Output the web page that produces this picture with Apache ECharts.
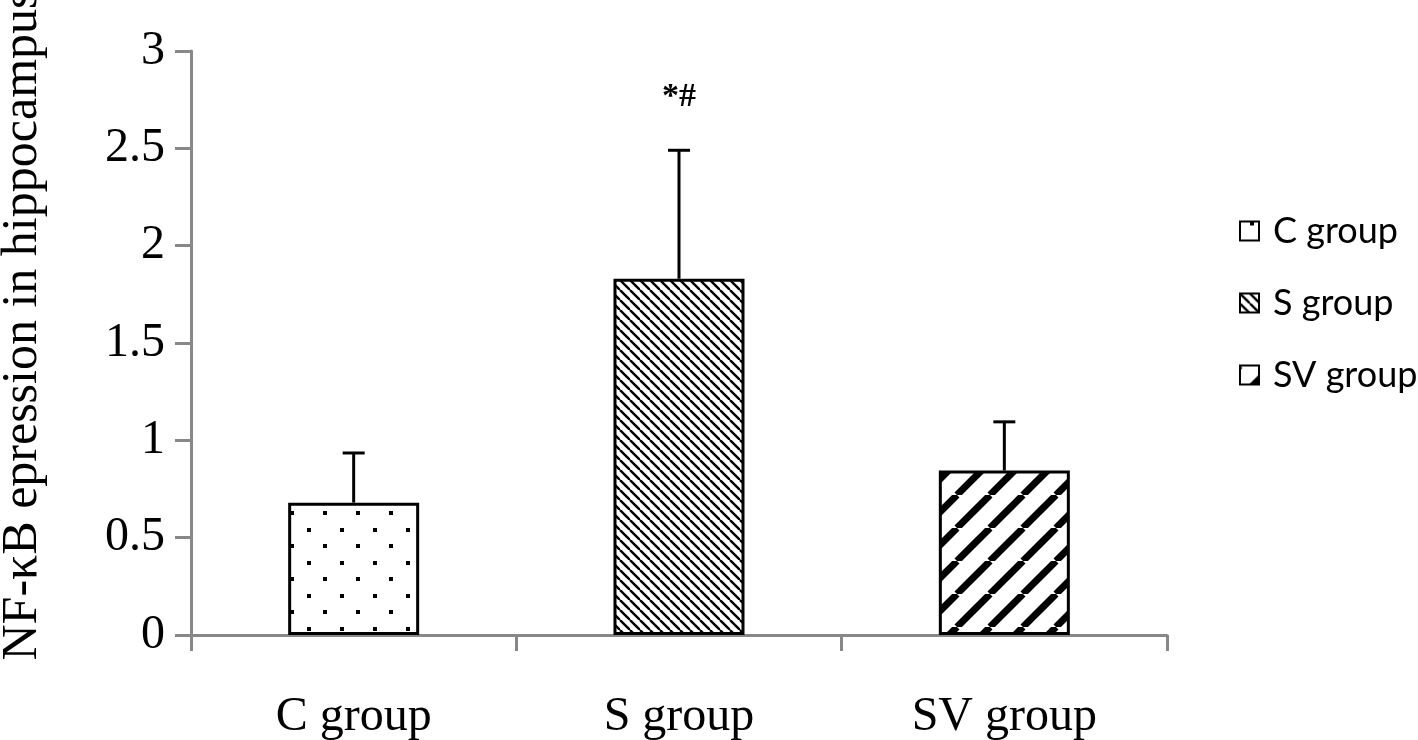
<!DOCTYPE html>
<html>
<head>
<meta charset="utf-8">
<script src="https://cdn.jsdelivr.net/npm/echarts@6/dist/echarts.min.js"></script>
<style>html,body{margin:0;padding:0;background:#fff;}#c{width:1418px;height:740px;}</style>
</head>
<body>
<div id="c"></div>
<script>
// ---- data ----
var categories = ['C group', 'S group', 'SV group'];
var meanValues = [0.68, 1.83, 0.845];
var errorTops = [0.935, 2.49, 1.095];
var annotations = ['', '*#', ''];
var yTicks = { min: 0, max: 3, interval: 0.5 };
var yAxisName = 'NF-\u03baB epression in hippocampus';

// ---- patterns ----
function dotPattern() {
  var c = document.createElement('canvas'); c.width = 33; c.height = 33;
  var g = c.getContext('2d');
  g.fillStyle = '#fff'; g.fillRect(0, 0, 33, 33);
  g.fillStyle = '#000';
  g.fillRect(10, 0, 4, 4);
  g.fillRect(26, 16, 4, 4);
  return { image: c, repeat: 'repeat' };
}
function linePattern(size, width, dir) {
  var c = document.createElement('canvas'); c.width = size; c.height = size;
  var g = c.getContext('2d');
  g.fillStyle = '#fff'; g.fillRect(0, 0, size, size);
  g.strokeStyle = '#000'; g.lineWidth = width;
  [-size, 0, size].forEach(function (k) {
    g.beginPath();
    if (dir === 'down') { g.moveTo(k, 0); g.lineTo(k + size, size); }
    else { g.moveTo(k, size); g.lineTo(k + size, 0); }
    g.stroke();
  });
  return { image: c, repeat: 'repeat' };
}
var patterns = [dotPattern(), linePattern(10, 2.4, 'down'), linePattern(33, 7, 'up')];

var barSeries = categories.map(function (name, i) {
  var d = categories.map(function (_, j) { return j === i ? meanValues[i] : '-'; });
  return {
    name: name, type: 'bar', data: d, barWidth: 131, barGap: '-100%',
    itemStyle: { color: patterns[i], borderColor: '#000', borderWidth: 3 },
    emphasis: { disabled: true }, z: 2
  };
});

var errData = categories.map(function (_, i) { return [i, meanValues[i], errorTops[i], annotations[i]]; });

var chart = echarts.init(document.getElementById('c'));
chart.setOption({
  animation: false,
  backgroundColor: '#fff',
  grid: { left: 191, right: 251, top: 51, bottom: 105, containLabel: false, outerBoundsMode: 'none' },
  legend: {
    orient: 'vertical', left: 1234, top: 208, itemGap: 36,
    itemWidth: 19, itemHeight: 19, icon: 'rect',
    itemStyle: { borderWidth: 2, borderColor: '#000' },
    textStyle: { fontFamily: 'Lato', fontSize: 36, lineHeight: 36, color: '#000', padding: [0, 0, 0, 9] },
    data: categories
  },
  xAxis: {
    type: 'category', data: categories,
    axisLine: { lineStyle: { color: '#888', width: 3 } },
    axisTick: { show: true, length: 16, lineStyle: { color: '#888', width: 3 } },
    axisLabel: { margin: 58, color: '#000', fontFamily: 'Liberation Serif', fontSize: 48 }
  },
  yAxis: {
    type: 'value', min: yTicks.min, max: yTicks.max, interval: yTicks.interval,
    name: yAxisName, nameLocation: 'middle', nameGap: 143,
    nameTextStyle: { fontFamily: 'Liberation Serif', fontSize: 50, color: '#000', padding: [0, 0, 0, 36] },
    axisLine: { show: true, lineStyle: { color: '#888', width: 3 } },
    axisTick: { show: true, length: 16, lineStyle: { color: '#888', width: 3 } },
    splitLine: { show: false },
    axisLabel: { margin: 26, color: '#000', fontFamily: 'Liberation Serif', fontSize: 48 }
  },
  series: barSeries.concat([{
    type: 'custom', data: errData, z: 3, silent: true,
    renderItem: function (params, api) {
      var base = api.coord([api.value(0), api.value(1)]);
      var top = api.coord([api.value(0), api.value(2)]);
      var txt = errData[params.dataIndex][3];
      var children = [
        { type: 'line', shape: { x1: base[0], y1: base[1], x2: top[0], y2: top[1] }, style: { stroke: '#000', lineWidth: 3 } },
        { type: 'line', shape: { x1: top[0] - 11, y1: top[1], x2: top[0] + 11, y2: top[1] }, style: { stroke: '#000', lineWidth: 3 } }
      ];
      if (txt) {
        children.push({ type: 'text', x: top[0], y: top[1] - 53, style: { text: txt, fill: '#000', font: 'bold 34px "Liberation Serif"', align: 'center', verticalAlign: 'middle' } });
      }
      return { type: 'group', children: children };
    }
  }])
});
</script>
</body>
</html>
